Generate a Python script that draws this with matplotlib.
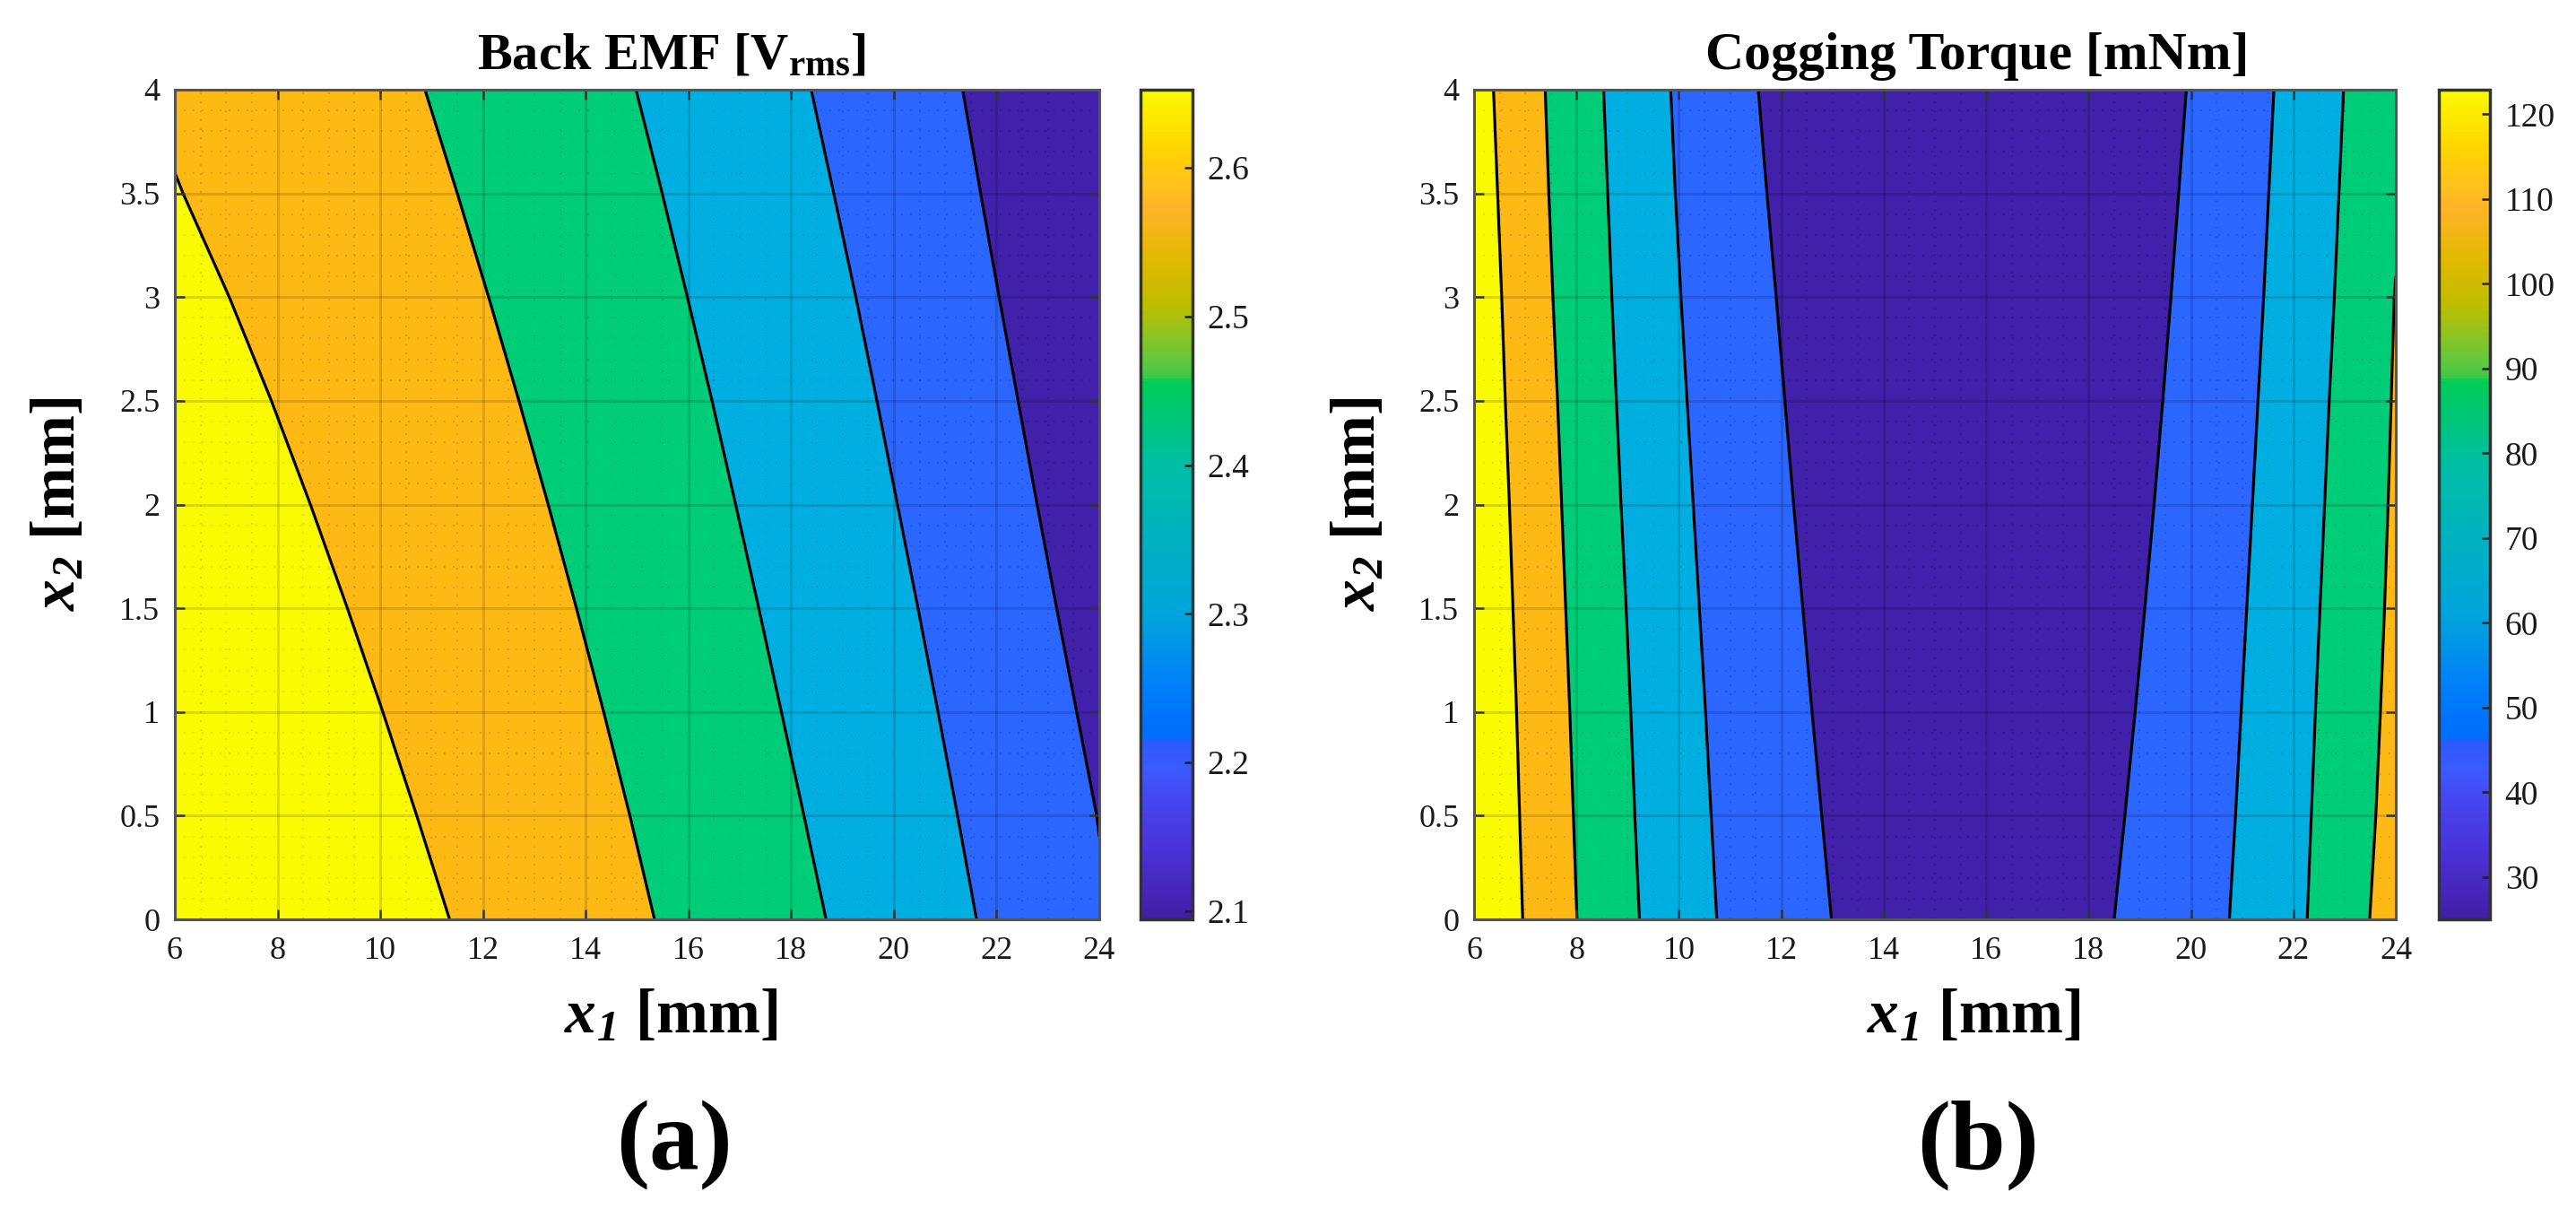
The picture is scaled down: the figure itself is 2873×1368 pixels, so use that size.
import numpy as np
import matplotlib
matplotlib.use('Agg')
import matplotlib.pyplot as plt
from matplotlib.cm import ScalarMappable
from matplotlib.colors import LinearSegmentedColormap, Normalize

plt.rcParams['font.family'] = ['Liberation Serif', 'DejaVu Serif']
plt.rcParams['mathtext.fontset'] = 'custom'
plt.rcParams['mathtext.rm'] = 'Liberation Serif:bold'
plt.rcParams['mathtext.it'] = 'Liberation Serif:italic:bold'
plt.rcParams['mathtext.bf'] = 'Liberation Serif:bold'
plt.rcParams['mathtext.bfit'] = 'Liberation Serif:italic:bold'

W, H = 2873, 1368

# x2 rows the contour lines were read at
x2_rows = [0, 0.5, 1, 1.5, 2, 2.5, 3, 3.5, 4]

# back EMF contour lines, x1 at each x2
emf_a_x2 = [0, 0.5, 1, 1.5, 2, 2.5, 3, 3.5, 3.6]
emf_a_x1 = [11.35, 10.71, 10.05, 9.36, 8.64, 7.88, 7.06, 6.16, 6.0]
emf_b_x1 = [15.34, 14.86, 14.35, 13.82, 13.27, 12.70, 12.11, 11.50, 10.87]
emf_c_x1 = [18.68, 18.25, 17.81, 17.37, 16.92, 16.46, 15.98, 15.49, 14.98]
emf_d_x1 = [21.61, 21.24, 20.86, 20.47, 20.07, 19.67, 19.26, 18.83, 18.39]
emf_e_x2 = [0.4, 0.5, 1, 1.5, 2, 2.5, 3, 3.5, 4]
emf_e_x1 = [24.0, 23.95, 23.56, 23.17, 22.79, 22.42, 22.05, 21.69, 21.34]

# cogging torque contour lines
cog_a_x1 = [6.95, 6.89, 6.83, 6.76, 6.69, 6.61, 6.54, 6.46, 6.38]
cog_b_x1 = [8.01, 7.94, 7.87, 7.79, 7.71, 7.63, 7.54, 7.46, 7.39]
cog_c_x1 = [9.23, 9.14, 9.06, 8.97, 8.87, 8.78, 8.69, 8.61, 8.53]
cog_d_x1 = [10.74, 10.63, 10.52, 10.40, 10.28, 10.16, 10.04, 9.93, 9.84]
cog_e_x1 = [12.98, 12.79, 12.60, 12.42, 12.24, 12.07, 11.90, 11.72, 11.55]
cog_f_x1 = [18.50, 18.71, 18.91, 19.10, 19.28, 19.45, 19.61, 19.76, 19.91]
cog_g_x1 = [20.75, 20.87, 20.98, 21.09, 21.20, 21.31, 21.42, 21.52, 21.62]
cog_h_x1 = [22.27, 22.35, 22.43, 22.52, 22.61, 22.70, 22.80, 22.89, 22.98]
cog_i_x2 = [0, 0.5, 1, 1.5, 2, 2.5, 3, 3.1]
cog_i_x1 = [23.49, 23.61, 23.70, 23.78, 23.85, 23.91, 23.97, 24.0]

YELLOW = '#fafa00'
ORANGE = '#ffb915'
GREEN = '#00cd78'
CYAN = '#00afe1'
BLUE = '#2a66ff'
PURPLE = '#4120aa'

x1_ticks = [6, 8, 10, 12, 14, 16, 18, 20, 22, 24]
x2_ticks = [0, 0.5, 1, 1.5, 2, 2.5, 3, 3.5, 4]
x2_labels = ['0', '0.5', '1', '1.5', '2', '2.5', '3', '3.5', '4']
emf_cbar_ticks = [2.1, 2.2, 2.3, 2.4, 2.5, 2.6]
emf_range = (2.0946, 2.6525)
cog_cbar_ticks = [30, 40, 50, 60, 70, 80, 90, 100, 110, 120]
cog_range = (25.0, 122.9)

cmap_pos = [0, .081, .143, .178, .211, .219, .276, .368, .547, .649, .656, .676, .741, .795, .859, .935, 1]
cmap_col = ['#411ea5', '#4b32d7', '#4646f0', '#3c5aff', '#2d5aff', '#006eff', '#007dfa', '#00a5dc',
            '#00bea5', '#00cd55', '#46c846', '#64c83c', '#bebe00', '#e1b900', '#ffb428', '#ffd700', '#fafa00']
parula = LinearSegmentedColormap.from_list('parula_like', list(zip(cmap_pos, cmap_col)))


def px_axes(fig, left, top, right, bottom):
    return fig.add_axes([left / W, 1 - bottom / H, (right - left) / W, (bottom - top) / H])


def px_text(fig, x, y, s, **kw):
    fig.text(x / W, 1 - y / H, s, ha='center', va='center', **kw)


def add_line(ax, x2, x1, colour):
    # paint everything right of the line, later lines paint over it
    fx2 = list(x2)
    fx1 = list(x1)
    if fx2[0] > 0:
        fx2 = [0] + fx2
        fx1 = [fx1[0]] + fx1
    if fx2[-1] < 4:
        fx2 = fx2 + [4]
        fx1 = fx1 + [fx1[-1]]
    ax.fill_betweenx(fx2, fx1, 24, color=colour, lw=0, zorder=1)
    return x2, x1


def style_axes(ax):
    ax.set_xlim(6, 24)
    ax.set_ylim(0, 4)
    ax.set_xticks(x1_ticks)
    ax.set_yticks(x2_ticks)
    ax.set_yticklabels(x2_labels)
    ax.set_xticks(np.arange(6, 24.01, 0.5), minor=True)
    ax.set_yticks(np.arange(0, 4.01, 0.1), minor=True)
    ax.tick_params(which='major', direction='in', top=True, right=True, length=8, width=1.8,
                   color='#333333', labelsize=26, labelcolor='#1a1a1a')
    ax.tick_params(axis='x', which='major', pad=14)
    ax.tick_params(axis='y', which='major', pad=12)
    ax.tick_params(which='minor', length=0)
    ax.grid(which='major', color='black', alpha=0.13, lw=2.2, zorder=3)
    ax.grid(which='minor', color='black', alpha=0.16, lw=1.2, ls=(0, (1, 5)), zorder=3)
    ax.set_axisbelow(False)
    for s in ax.spines.values():
        s.set_color('#555555')
        s.set_linewidth(2.2)
        s.set_zorder(6)


def add_cbar(fig, cax, vrange, ticks):
    sm = ScalarMappable(norm=Normalize(*vrange), cmap=parula)
    cb = fig.colorbar(sm, cax=cax)
    cb.set_ticks(ticks)
    cb.set_ticklabels([str(t) for t in ticks])
    cax.tick_params(direction='in', length=6.5, width=1.8, color='#222222', labelsize=27,
                    labelcolor='#1a1a1a', pad=12)
    cb.outline.set_edgecolor('#333333')
    cb.outline.set_linewidth(2.5)


def plot_graph():
    fig = plt.figure(figsize=(W / 100, H / 100), dpi=100, facecolor='white')

    ax1 = px_axes(fig, 195, 100, 1226, 1025)
    ax1.set_facecolor(YELLOW)
    lines = [
        add_line(ax1, emf_a_x2, emf_a_x1, ORANGE),
        add_line(ax1, x2_rows, emf_b_x1, GREEN),
        add_line(ax1, x2_rows, emf_c_x1, CYAN),
        add_line(ax1, x2_rows, emf_d_x1, BLUE),
        add_line(ax1, emf_e_x2, emf_e_x1, PURPLE),
    ]
    for x2, x1 in lines:
        ax1.plot(x1, x2, color='black', lw=2.3, zorder=2, solid_capstyle='butt')
    style_axes(ax1)

    ax2 = px_axes(fig, 1644, 100, 2672, 1025)
    ax2.set_facecolor(YELLOW)
    bands = [(cog_a_x1, ORANGE), (cog_b_x1, GREEN), (cog_c_x1, CYAN), (cog_d_x1, BLUE), (cog_e_x1, PURPLE),
             (cog_f_x1, BLUE), (cog_g_x1, CYAN), (cog_h_x1, GREEN)]
    lines = [add_line(ax2, x2_rows, x1, colour) for x1, colour in bands]
    lines.append(add_line(ax2, cog_i_x2, cog_i_x1, ORANGE))
    for x2, x1 in lines:
        ax2.plot(x1, x2, color='black', lw=2.3, zorder=2, solid_capstyle='butt')
    style_axes(ax2)

    add_cbar(fig, px_axes(fig, 1272, 100, 1330, 1025), emf_range, emf_cbar_ticks)
    add_cbar(fig, px_axes(fig, 2720, 100, 2777, 1025), cog_range, cog_cbar_ticks)

    px_text(fig, 749, 63, r'Back EMF [V$_{\mathrm{rms}}$]', fontsize=42, fontweight='bold')
    px_text(fig, 2205, 63, 'Cogging Torque [mNm]', fontsize=43, fontweight='bold')

    px_text(fig, 748, 1134, r'$\mathbfit{x_1}$ [mm]', fontsize=50, fontweight='bold')
    px_text(fig, 2201, 1134, r'$\mathbfit{x_1}$ [mm]', fontsize=50, fontweight='bold')
    px_text(fig, 66, 562, r'$\mathbfit{x_2}$ [mm]', fontsize=50, fontweight='bold', rotation=90)
    px_text(fig, 1516, 562, r'$\mathbfit{x_2}$ [mm]', fontsize=50, fontweight='bold', rotation=90)

    px_text(fig, 752, 1277, '(a)', fontsize=80, fontweight='bold')
    px_text(fig, 2206, 1277, '(b)', fontsize=80, fontweight='bold')

    fig.savefig('out.png', dpi=100, facecolor='white')


if __name__ == "__main__":
    plot_graph()
